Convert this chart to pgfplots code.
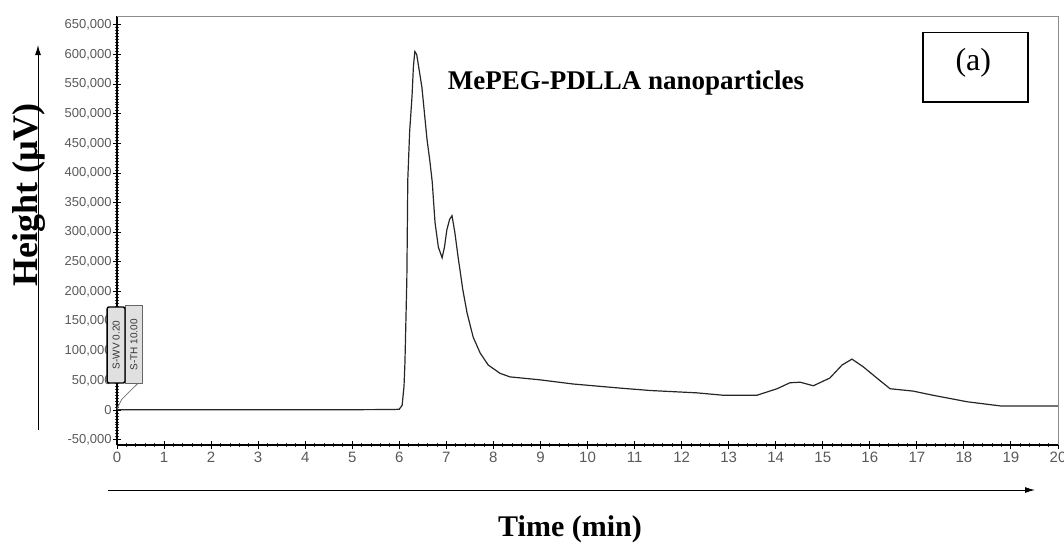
\documentclass[border=0pt]{standalone}
\usepackage{pgfplots}
\pgfplotsset{compat=1.18}
\usepackage{fontspec}
\setmainfont{Liberation Serif}
\newfontfamily\arialf{Liberation Sans}
\usetikzlibrary{arrows.meta}
\begin{document}
\begin{tikzpicture}
\path[use as bounding box] (0,0) rectangle (532pt,-273.5pt);
\begin{axis}[
  at={(58.5pt,-222.5pt)}, anchor=south west,
  scale only axis, width=470.5pt, height=214.5pt,
  xmin=0, xmax=20, ymin=-59000, ymax=665000,
  axis x line*=bottom, axis y line*=left,
  axis line style={-, black, line width=0.9pt},
  xtick={0,1,2,3,4,5,6,7,8,9,10,11,12,13,14,15,16,17,18,19,20},
  ytick={-50000,0,50000,100000,150000,200000,250000,300000,350000,400000,450000,500000,550000,600000,650000},
  minor x tick num=4, minor y tick num=9,
  tick align=center,
  major tick length=4pt, minor tick length=2pt,
  tick style={black, line width=0.5pt},
  minor tick style={black!80, line width=0.4pt},
  scaled y ticks=false,
  /pgf/number format/assume math mode=true,
  yticklabel style={/pgf/number format/.cd, fixed, precision=0, 1000 sep={,}, /tikz/.cd,
     font=\arialf\fontsize{6.5}{7}\selectfont, text=black!65, inner sep=0.5pt},
  xticklabel style={font=\arialf\fontsize{7.5}{8}\selectfont, text=black!65, inner sep=1.5pt},
  clip=false,
]
\addplot[black!85, line width=0.6pt] coordinates {
(0,500) (1,400) (2,600) (3,500) (4,500) (5,600) (5.9,900) (6.00,1500) (6.06,8000) (6.10,40000)
(6.12,80000) (6.14,150000) (6.16,220000) (6.17,300000) (6.18,388000) (6.22,470000)
(6.27,529000) (6.30,580000) (6.33,605000) (6.37,600000) (6.42,575000) (6.48,545000)
(6.59,456000) (6.65,420000) (6.70,385000) (6.73,350000) (6.76,316000) (6.83,275000) (6.91,257000) (6.96,275000)
(7.01,304000) (7.07,322000) (7.12,328000) (7.18,300000) (7.25,258000) (7.35,203000)
(7.44,164000) (7.57,123000) (7.72,96000) (7.89,76000) (8.14,62000) (8.35,56000)
(8.99,51000) (9.69,44000) (10.7,37000) (11.33,33000) (12.33,29000) (12.88,25000)
(13.6,25000) (14.03,36000) (14.3,46000) (14.52,47000) (14.8,41000) (15.15,54000)
(15.41,76000) (15.62,86000) (15.86,73000) (16.15,54000) (16.43,36000) (16.92,32000)
(17.34,25000) (18.07,14000) (18.77,7000) (20.0,7000)
};
\draw[black!45, line width=0.5pt] (rel axis cs:0,1) -- (rel axis cs:1,1) -- (rel axis cs:1,0);
\node[anchor=west, font=\bfseries\fontsize{13.5}{15}\selectfont] at (axis cs:6.88,552000) {MePEG-PDLLA nanoparticles};
\draw[black, line width=0.6pt] (axis cs:17.13,637000) rectangle (axis cs:19.36,520000);
\node[font=\fontsize{16}{18}\selectfont] at (axis cs:18.2,586000) {(a)};
% event markers
\draw[black!55, line width=0.4pt] (axis cs:0.45,45600) -- (axis cs:0.1,18000) -- (axis cs:0,2000);
\draw[black!60, fill=black!12, line width=0.4pt] (axis cs:0.17,177000) rectangle (axis cs:0.55,45600);
\draw[black, fill=black!12, rounded corners=1pt, line width=0.7pt] (axis cs:-0.21,174000) rectangle (axis cs:0.17,45600);
\node[rotate=90, font=\arialf\fontsize{5}{5}\selectfont, text=black!80, inner sep=0pt] at (axis cs:-0.02,110000) {S-WV 0.20};
\node[rotate=90, font=\arialf\fontsize{5}{5}\selectfont, text=black!80, inner sep=0pt] at (axis cs:0.36,110000) {S-TH 10.00};
\end{axis}
\begin{scope}[x=0.5pt, y=-0.5pt]
\draw[black, line width=0.5pt, -{Latex[length=5pt,width=3pt]}] (38,430) -- (38,45);
\draw[black, line width=0.5pt, -{Latex[length=5pt,width=3pt]}] (108,490) -- (1035,490);
\node[rotate=90, anchor=base, font=\bfseries\fontsize{18}{20}\selectfont, inner sep=0pt] at (37,195) {Height (µV)};
\node[anchor=base, font=\bfseries\fontsize{15}{17}\selectfont, inner sep=0pt] at (570,536) {Time (min)};
\end{scope}
\end{tikzpicture}
\end{document}
